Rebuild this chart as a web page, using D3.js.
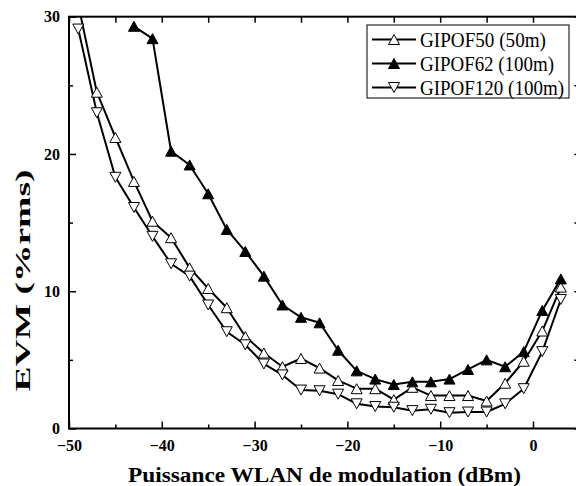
<!DOCTYPE html>
<html><head><meta charset="utf-8">
<script src="https://cdn.jsdelivr.net/npm/d3@7"></script>
<style>html,body{margin:0;padding:0;background:#fff;} svg{display:block;}</style>
</head><body>
<script>
// ---- data ----
const powerX = [-49,-47,-45,-43,-41,-39,-37,-35,-33,-31,-29,-27,-25,-23,-21,-19,-17,-15,-13,-11,-9,-7,-5,-3,-1,1,3];
const gipof50 = [30.9,24.5,21.2,18.0,15.1,13.9,11.7,10.2,8.8,6.7,5.5,4.5,5.1,4.4,3.5,2.9,2.9,2.1,3.0,2.4,2.4,2.4,2.0,3.3,4.9,7.1,10.3];
const powerX62 = [-43,-41,-39,-37,-35,-33,-31,-29,-27,-25,-23,-21,-19,-17,-15,-13,-11,-9,-7,-5,-3,-1,1,3];
const gipof62 = [29.3,28.4,20.2,19.2,17.1,14.5,12.9,11.1,9.0,8.1,7.7,5.7,4.2,3.6,3.2,3.4,3.4,3.6,4.3,5.0,4.5,5.6,8.6,10.9];
const gipof120 = [29.1,23.0,18.3,16.1,14.0,12.0,11.1,9.0,7.05,6.1,4.7,3.9,2.8,2.75,2.5,1.8,1.6,1.55,1.3,1.4,1.15,1.2,1.2,1.8,2.9,5.6,9.4];
const seriesNames = ["GIPOF50 (50m)", "GIPOF62 (100m)", "GIPOF120 (100m)"];
const xTicksMajor = [-50,-40,-30,-20,-10,0];
const xTicksMinor = [-45,-35,-25,-15,-5];
const yTicksMajor = [0,10,20,30];
const yTicksMinor = [5,15,25];
const xTitle = "Puissance WLAN de modulation (dBm)";
const yTitle = "EVM (%rms)";

// ---- layout ----
const W = 576, H = 486;
const L = 69, R = 579.4, T = 16.7, B = 428.5;
const x = d3.scaleLinear().domain([-50, 5]).range([L, R]);
const y = d3.scaleLinear().domain([0, 30]).range([B, T]);

const svg = d3.select("body").append("svg").attr("width", W).attr("height", H);
svg.append("rect").attr("width", W).attr("height", H).attr("fill", "#fff");

svg.append("defs").append("clipPath").attr("id", "plotClip")
  .append("rect").attr("x", L).attr("y", T).attr("width", R - L).attr("height", B - T);

const serif = "Liberation Serif, Times New Roman, serif";

// ---- series ----
const series = [
  {name: seriesNames[0], xs: powerX, ys: gipof50, shape: "up", fill: "#fff"},
  {name: seriesNames[1], xs: powerX62, ys: gipof62, shape: "up", fill: "#000"},
  {name: seriesNames[2], xs: powerX, ys: gipof120, shape: "down", fill: "#fff"}
];
const mw = 11, mh = 10;
function triPath(shape) {
  return shape === "up"
    ? `M0,${-mh/2}L${mw/2},${mh/2}L${-mw/2},${mh/2}Z`
    : `M0,${mh/2}L${mw/2},${-mh/2}L${-mw/2},${-mh/2}Z`;
}
const line = d3.line().x(d => x(d[0])).y(d => y(d[1]));
const plot = svg.append("g").attr("clip-path", "url(#plotClip)");
series.forEach(s => {
  const pts = s.xs.map((v, i) => [v, s.ys[i]]);
  plot.append("path").datum(pts).attr("d", line)
    .attr("fill", "none").attr("stroke", "#000").attr("stroke-width", 2).attr("stroke-linejoin", "round");
});
series.forEach(s => {
  const pts = s.xs.map((v, i) => [v, s.ys[i]]);
  plot.selectAll(null).data(pts).enter().append("path")
    .attr("d", triPath(s.shape))
    .attr("transform", d => `translate(${x(d[0])},${y(d[1])})`)
    .attr("fill", s.fill).attr("stroke", "#000").attr("stroke-width", 1);
});

// ---- axes ----
function styleAxis(g) {
  g.attr("font-family", serif);
  g.select(".domain").remove();
  g.selectAll(".tick line").attr("stroke", "#000").attr("stroke-width", 1.5);
  g.selectAll("text").style("font-family", serif).attr("font-weight", "bold")
    .attr("font-size", 16).attr("fill", "#000");
}
// bottom
svg.append("g").attr("transform", `translate(0,${B})`)
  .call(d3.axisBottom(x).tickValues(xTicksMajor).tickFormat(d3.format("d")).tickSize(-7).tickPadding(11))
  .call(styleAxis);
svg.append("g").attr("transform", `translate(0,${B})`)
  .call(d3.axisBottom(x).tickValues(xTicksMinor).tickFormat("").tickSize(-4))
  .call(styleAxis);
// top
svg.append("g").attr("transform", `translate(0,${T})`)
  .call(d3.axisTop(x).tickValues(xTicksMajor.concat(xTicksMinor)).tickFormat("").tickSize(-6))
  .call(styleAxis);
// left
svg.append("g").attr("transform", `translate(${L},0)`)
  .call(d3.axisLeft(y).tickValues(yTicksMajor).tickFormat(d3.format("d")).tickSize(-7).tickPadding(9))
  .call(styleAxis);
svg.append("g").attr("transform", `translate(${L},0)`)
  .call(d3.axisLeft(y).tickValues(yTicksMinor).tickFormat("").tickSize(-4))
  .call(styleAxis);
// right
svg.append("g").attr("transform", `translate(${R},0)`)
  .call(d3.axisRight(y).tickValues(yTicksMajor.concat(yTicksMinor)).tickFormat("").tickSize(-5))
  .call(styleAxis);

// frame
svg.append("rect").attr("x", L).attr("y", T).attr("width", R - L).attr("height", B - T)
  .attr("fill", "none").attr("stroke", "#000").attr("stroke-width", 2);

// ---- titles ----
svg.append("text").attr("x", 324.5).attr("y", 482)
  .attr("text-anchor", "middle").style("font-family", serif).attr("font-weight", "bold")
  .attr("font-size", 22).attr("textLength", 393).attr("lengthAdjust", "spacingAndGlyphs")
  .text(xTitle);
svg.append("text").attr("transform", "translate(30,280.5) rotate(-90)")
  .attr("text-anchor", "middle").style("font-family", serif).attr("font-weight", "bold")
  .attr("font-size", 22).attr("textLength", 222).attr("lengthAdjust", "spacingAndGlyphs")
  .text(yTitle);

// ---- legend ----
const lg = svg.append("g");
lg.append("rect").attr("x", 367).attr("y", 25).attr("width", 202).attr("height", 73)
  .attr("fill", "#fff").attr("stroke", "#000").attr("stroke-width", 1);
const textWidths = [126, 134, 144];
series.forEach((s, i) => {
  const ry = 39.5 + i * 24;
  lg.append("line").attr("x1", 372).attr("x2", 416).attr("y1", ry).attr("y2", ry)
    .attr("stroke", "#000").attr("stroke-width", 2);
  lg.append("path").attr("d", triPath(s.shape)).attr("transform", `translate(394,${ry})`)
    .attr("fill", s.fill).attr("stroke", "#000").attr("stroke-width", 1);
  lg.append("text").attr("x", 420).attr("y", ry + 7.5)
    .style("font-family", serif).attr("font-size", 20)
    .attr("textLength", textWidths[i]).attr("lengthAdjust", "spacingAndGlyphs")
    .text(s.name);
});
</script>
</body></html>
